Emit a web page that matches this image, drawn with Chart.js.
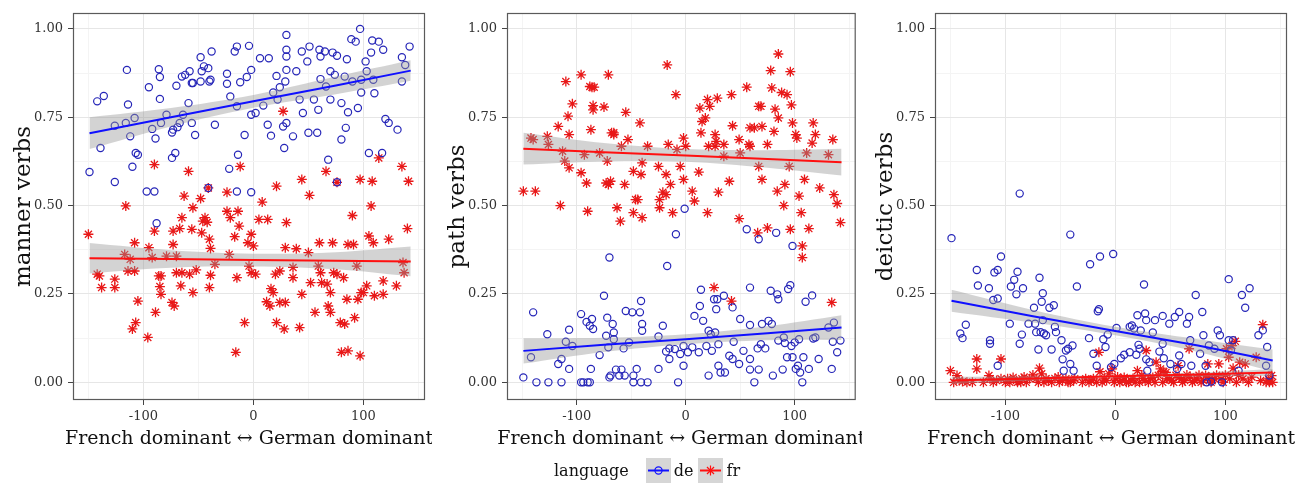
<!DOCTYPE html>
<html>
<head>
<meta charset="utf-8">
<script src="https://cdn.jsdelivr.net/npm/chart.js@4.4.1/dist/chart.umd.min.js"></script>
<style>
  body { margin: 0; background: #fff; width: 1295px; height: 483px; overflow: hidden; position: relative; font-family: 'DejaVu Serif', serif; }
  canvas.panel { position: absolute; top: 0; }
  #legend { position: absolute; left: 554px; top: 458px; height: 25px; display: flex; align-items: center; font-size: 16px; color: #111; white-space: nowrap; }
  #legend canvas { background: #d6d6d6; margin: 0 3px; }
</style>
</head>
<body>
<canvas id="manner" class="panel" width="432" height="483" style="left:0px"></canvas>
<canvas id="path" class="panel" width="428" height="483" style="left:434px"></canvas>
<canvas id="deictic" class="panel" width="433" height="483" style="left:862px"></canvas>
<div id="legend">
  <span style="margin-right:14px">language</span>
  <canvas id="keyDe" width="25" height="25"></canvas><span style="margin-right:2px">de</span>
  <canvas id="keyFr" width="25" height="25"></canvas><span>fr</span>
</div>
<script>
// ---------------- Data ----------------
const xMajorTicks = [-100, 0, 100];
const xMinorTicks = [-150, -50, 50, 150];
const yMajorTicks = [0, 0.25, 0.5, 0.75, 1];
const yMinorTicks = [0.125, 0.375, 0.625, 0.875];
const xTitle = 'French dominant \u2194 German dominant';
const legendTitle = 'language';
const languages = ['de', 'fr'];

// manner verbs
const mannerDe = [[-149,.595],[-142,.795],[-136,.81],[-139,.663],[-126,.567],[-126,.726],[-116,.734],[-115,.884],[-114,.786],[-112,.696],[-110,.61],[-108,.748],[-107,.649],[-105,.644],[-97,.54],[-95,.835],[-92,.717],[-90,.54],[-89,.69],[-88,.45],[-86,.886],[-85,.864],[-85,.802],[-84,.734],[-79,.757],[-74,.707],[-74,.635],[-73,.715],[-71,.649],[-70,.839],[-69,.722],[-67,.734],[-65,.865],[-64,.757],[-62,.87],[-59,.79],[-58,.88],[-56,.847],[-55,.847],[-56,.734],[-53,.70],[-48,.851],[-48,.92],[-47,.88],[-45,.894],[-41,.889],[-40,.851],[-39,.856],[-38,.936],[-41,.55],[-35,.729],[-24,.873],[-24,.845],[-21,.809],[-22,.604],[-17,.936],[-15,.95],[-15,.54],[-14,.644],[-15,.781],[-12,.849],[-8,.70],[-6,.864],[-4,.952],[-2,.884],[-2,.757],[-2,.538],[2,.762],[6,.917],[9,.783],[14,.917],[13,.729],[16,.698],[18,.82],[21,.867],[22,.80],[24,.835],[27,.724],[28,.663],[29,.851],[30,.983],[30,.941],[30,.922],[30,.884],[30,.734],[36,.696],[39,.88],[42,.80],[44,.936],[45,.762],[49,.908],[50,.706],[51,.95],[55,.80],[58,.706],[59,.771],[60,.941],[61,.858],[61,.922],[65,.936],[66,.837],[68,.63],[70,.80],[70,.88],[72,.933],[74,.87],[76,.924],[76,.566],[80,.687],[80,.79],[83,.865],[84,.72],[85,.914],[86,.764],[89,.971],[90,.851],[93,.964],[95,.776],[97,1.0],[98,.82],[98,.856],[102,.908],[103,.88],[105,.649],[107,.933],[108,.967],[109,.856],[110,.818],[114,.964],[117,.649],[118,.941],[120,.745],[123,.734],[131,.715],[135,.92],[135,.851],[138,.898],[142,.95]];
const mannerFr = [[-150,.419],[-142,.306],[-140,.301],[-138,.268],[-126,.292],[-126,.268],[-117,.362],[-116,.499],[-114,.315],[-112,.348],[-110,.151],[-108,.395],[-108,.315],[-107,.169],[-105,.23],[-96,.127],[-95,.381],[-92,.353],[-90,.616],[-90,.428],[-89,.198],[-86,.301],[-85,.271],[-84,.249],[-84,.301],[-79,.357],[-74,.226],[-73,.428],[-73,.39],[-72,.216],[-70,.357],[-70,.31],[-67,.435],[-66,.273],[-65,.466],[-65,.31],[-63,.527],[-59,.597],[-58,.306],[-56,.433],[-55,.254],[-55,.494],[-52,.318],[-48,.52],[-47,.423],[-46,.456],[-44,.466],[-42,.453],[-41,.55],[-40,.405],[-39,.303],[-40,.268],[-39,.379],[-35,.334],[-24,.538],[-24,.484],[-21,.466],[-22,.362],[-17,.412],[-16,.085],[-15,.296],[-14,.484],[-13,.442],[-12,.611],[-8,.169],[-5,.395],[-2,.419],[-4,.329],[-2,.31],[0,.386],[2,.306],[5,.461],[8,.51],[13,.461],[12,.228],[15,.216],[16,.265],[18,.254],[20,.306],[21,.555],[21,.169],[24,.315],[24,.226],[27,.767],[28,.151],[29,.381],[29,.226],[30,.452],[36,.325],[36,.296],[39,.378],[42,.155],[44,.249],[44,.574],[50,.367],[51,.529],[52,.282],[56,.198],[59,.329],[60,.395],[61,.31],[62,.282],[66,.597],[67,.278],[68,.216],[70,.198],[70,.254],[72,.395],[73,.31],[76,.566],[76,.306],[79,.169],[80,.085],[82,.296],[83,.165],[85,.235],[86,.39],[86,.089],[90,.472],[91,.39],[92,.183],[94,.329],[95,.235],[97,.574],[97,.075],[98,.254],[100,.254],[103,.273],[105,.414],[107,.499],[108,.569],[109,.395],[110,.245],[114,.635],[118,.287],[118,.249],[123,.405],[130,.273],[135,.611],[136,.339],[137,.31],[141,.569],[140,.435]];

// path verbs
const pathDe = [[-149,.014],[-142,.071],[-140,.198],[-137,0],[-127,.136],[-126,0],[-117,.052],[-114,.066],[-114,0],[-110,.115],[-107,.149],[-107,.038],[-104,.103],[-96,.193],[-96,0],[-94,0],[-91,.171],[-90,0],[-88,0],[-88,.16],[-86,.179],[-85,.151],[-87,.038],[-79,.077],[-75,.245],[-73,.132],[-72,.183],[-70,.353],[-71,.099],[-70,.014],[-69,.019],[-67,.165],[-66,.141],[-66,.122],[-64,.036],[-61,.019],[-59,.036],[-57,.096],[-56,.019],[-55,.202],[-52,.113],[-49,.198],[-48,.019],[-48,0],[-45,.038],[-42,.198],[-41,.23],[-41,0],[-40,.165],[-40,.146],[-35,0],[-25,.13],[-25,.038],[-21,.16],[-18,.087],[-17,.329],[-15,.096],[-15,.066],[-10,.094],[-9,.419],[-7,0],[-5,.08],[-2,.047],[-2,.103],[-1,.491],[2,.085],[6,.099],[8,.188],[12,.085],[13,.216],[14,.262],[16,.174],[19,.103],[21,.019],[21,.146],[23,.136],[24,.089],[26,.235],[27,.141],[28,.207],[29,.235],[30,.047],[30,.108],[32,.028],[35,.245],[36,.028],[40,.075],[43,.066],[43,.212],[44,.115],[49,.052],[50,.179],[53,.089],[56,.433],[59,.066],[59,.036],[59,.162],[59,.268],[63,0],[66,.096],[67,.036],[67,.405],[69,.108],[70,.165],[73,.096],[76,.174],[78,.259],[79,.165],[80,.019],[83,.423],[84,.249],[85,.235],[85,.118],[89,.036],[90,.127],[91,.111],[93,.071],[94,.264],[96,.275],[97,.103],[98,.071],[98,.386],[100,.113],[101,.038],[103,.047],[104,.122],[105,.028],[107,0],[108,.071],[110,.228],[113,.038],[116,.246],[117,.124],[119,.127],[122,.066],[131,.155],[134,.038],[135,.115],[136,.169],[139,.085],[142,.118]];
const pathFr = [[-149,.541],[-138,.541],[-142,.691],[-140,.687],[-127,.696],[-126,.673],[-117,.724],[-115,.50],[-113,.654],[-111,.626],[-110,.851],[-108,.753],[-107,.607],[-107,.701],[-104,.788],[-96,.87],[-96,.593],[-93,.644],[-91,.564],[-90,.484],[-88,.837],[-86,.835],[-87,.715],[-85,.783],[-85,.771],[-84,.835],[-79,.649],[-75,.779],[-72,.626],[-71,.87],[-73,.564],[-71,.56],[-69,.569],[-68,.706],[-66,.701],[-66,.706],[-63,.494],[-60,.456],[-59,.668],[-56,.56],[-55,.764],[-53,.687],[-48,.48],[-48,.597],[-46,.517],[-44,.517],[-42,.734],[-41,.588],[-40,.621],[-40,.466],[-35,.668],[-25,.611],[-24,.494],[-24,.517],[-21,.538],[-18,.588],[-18,.531],[-17,.898],[-16,.673],[-14,.56],[-12,.48],[-9,.814],[-8,.659],[-5,.611],[-2,.691],[-2,.574],[0,.668],[6,.541],[8,.513],[12,.595],[13,.776],[14,.706],[15,.738],[18,.748],[20,.80],[20,.48],[21,.668],[22,.781],[27,.701],[27,.668],[28,.682],[30,.538],[29,.804],[35,.673],[35,.64],[40,.569],[42,.814],[43,.726],[49,.687],[49,.463],[50,.649],[56,.835],[58,.673],[59,.668],[59,.72],[63,.72],[66,.423],[67,.781],[69,.781],[70,.724],[67,.611],[70,.574],[75,.673],[75,.437],[78,.882],[79,.833],[81,.71],[82,.773],[85,.748],[85,.929],[84,.541],[88,.82],[91,.56],[90,.50],[93,.814],[95,.611],[96,.879],[97,.785],[98,.734],[96,.433],[101,.701],[102,.691],[104,.527],[106,.48],[107,.386],[107,.353],[109,.574],[111,.649],[113,.435],[116,.677],[117,.734],[119,.701],[123,.55],[131,.644],[135,.687],[136,.531],[139,.506],[142,.452],[134,.226],[26,.268],[42,.23]];

// deictic verbs
const deicticDe = [[-149,.408],[-141,.138],[-139,.125],[-136,.163],[-126,.318],[-125,.274],[-115,.266],[-114,.119],[-114,.109],[-111,.233],[-110,.311],[-107,.318],[-107,.237],[-107,.047],[-104,.356],[-96,.166],[-95,.271],[-92,.29],[-90,.249],[-89,.313],[-87,.534],[-87,.109],[-85,.135],[-84,.266],[-79,.166],[-74,.211],[-73,.166],[-72,.142],[-70,.093],[-69,.296],[-68,.142],[-67,.228],[-66,.252],[-66,.176],[-65,.138],[-63,.133],[-60,.211],[-58,.093],[-56,.218],[-55,.157],[-54,.142],[-49,.119],[-48,.065],[-47,.033],[-45,.09],[-43,.095],[-41,.052],[-41,.418],[-39,.104],[-38,.033],[-35,.271],[-23,.334],[-24,.125],[-20,.081],[-17,.047],[-16,.201],[-15,.207],[-14,.356],[-11,.122],[-9,.1],[-7,.135],[-4,.043],[-2,.363],[-1,.052],[1,.154],[5,.068],[8,.078],[13,.157],[13,.085],[15,.161],[17,.152],[19,.078],[20,.19],[21,.106],[22,.095],[23,.147],[26,.277],[27,.195],[28,.176],[28,.065],[29,.033],[31,.057],[34,.141],[36,.176],[40,.087],[43,.188],[43,.109],[44,.068],[49,.166],[50,.052],[54,.185],[56,.038],[58,.199],[58,.076],[60,.052],[65,.166],[67,.185],[68,.119],[69,.047],[73,.247],[77,.081],[79,.199],[80,.133],[82,.047],[83,0],[85,.104],[87,.002],[90,.095],[93,.147],[95,.133],[97,0],[103,.292],[103,.119],[105,.09],[107,.119],[112,.033],[115,.247],[118,.211],[122,.266],[130,.133],[134,.147],[137,.047],[138,.1],[140,.019]];
const deicticFr = [[-150,.033],[-144,.019],[-139,.002],[-135,0],[-126,.066],[-126,.038],[-115,.019],[-114,.01],[-111,0],[-104,.066],[-104,.01],[-96,0],[-93,.014],[-89,0],[-85,.01],[-81,0],[-75,.021],[-72,.01],[-69,.04],[-67,.024],[-65,0],[-63,.01],[-58,0],[-55,.011],[-51,0],[-45,.01],[-41,0],[-37,.01],[-24,0],[-20,.01],[-17,0],[-15,.085],[-14,.03],[-10,.01],[-6,.024],[-3,.038],[-1,0],[4,0],[8,.014],[12,0],[16,.011],[20,.033],[22,0],[25,.011],[28,.09],[30,0],[34,.014],[37,.057],[41,.038],[43,0],[46,.028],[49,.01],[53,0],[57,.047],[58,.014],[61,0],[65,.021],[67,.095],[70,0],[74,.01],[78,0],[82,.019],[84,.052],[87,0],[90,.01],[94,.052],[98,0],[101,.095],[103,.071],[106,.104],[109,.116],[110,0],[113,.057],[118,.052],[121,0],[128,.071],[134,.163],[137,0],[140,0],[142,.019],
  [-147,0],[-142,.005],[-130,0],[-120,0],[-108,.005],[-100,0],[-98,.01],[-90,.005],[-86,0],[-83,.015],[-78,.01],[-70,0],[-61,.005],[-52,.015],[-48,.005],[-43,0],[-38,.005],[-30,0],[-27,.01],[-22,.005],[-12,0],[-8,.005],[0,.01],[2,.015],[6,.005],[10,0],[14,.005],[18,0],[24,.02],[27,.005],[32,.01],[36,0],[39,.02],[44,.03],[47,.01],[51,.005],[55,.02],[60,.01],[63,.005],[68,.015],[72,.005],[76,.02],[80,.005],[85,.015],[88,.005],[92,.02],[96,.01],[100,.02],[104,.01],[107,.04],[112,.02],[116,.01],[124,.015],[132,.005],[139,.01],[143,0]];

// fitted lines and their confidence bands, read at these x positions
const fitX = [-149, -75, 0, 75, 143];
const mannerDeFit = [0.705, 0.750, 0.795, 0.840, 0.882];
const mannerDeSe  = [0.045, 0.026, 0.018, 0.025, 0.029];
const mannerFrFit = [0.351, 0.349, 0.346, 0.344, 0.342];
const mannerFrSe  = [0.043, 0.025, 0.018, 0.024, 0.042];
const pathDeFit = [0.089, 0.106, 0.122, 0.139, 0.155];
const pathDeSe  = [0.036, 0.020, 0.014, 0.020, 0.035];
const pathFrFit = [0.661, 0.651, 0.642, 0.632, 0.623];
const pathFrSe  = [0.045, 0.026, 0.018, 0.025, 0.038];
const deicticDeFit = [0.231, 0.187, 0.145, 0.104, 0.062];
const deicticDeSe  = [0.031, 0.018, 0.012, 0.018, 0.031];
const deicticFrFit = [0.005, 0.011, 0.017, 0.022, 0.028];
const deicticFrSe  = [0.010, 0.006, 0.004, 0.006, 0.010];

// ---------------- Styles ----------------
const FONT = "'DejaVu Serif', 'Liberation Serif', serif";
const DE_POINT = '#2626b8';
const DE_LINE = '#1010ff';
const FR_POINT = '#e81818';
const FR_LINE = '#ff1010';
const BAND = 'rgba(150,150,150,0.42)';

const isMajorX = v => xMajorTicks.includes(v);
const isMajorY = v => yMajorTicks.some(t => Math.abs(t - v) < 1e-9);

// box around each panel (ggplot panel.border) + x title drawn unsqueezed
const panelDecor = {
    id: 'panelDecor',
    afterDraw(chart) {
        const {ctx, chartArea: a} = chart;
        ctx.save();
        ctx.strokeStyle = '#5a5a5a';
        ctx.lineWidth = 1.2;
        ctx.strokeRect(a.left + 0.5, a.top + 0.5, a.width - 1, a.height - 1);
        ctx.fillStyle = '#111';
        ctx.font = "19px " + FONT;
        ctx.textAlign = 'center';
        ctx.textBaseline = 'alphabetic';
        ctx.fillText(xTitle, (a.left + a.right) / 2, 444);
        ctx.restore();
    }
};

function toPoints(pairs) {
    return pairs.map(p => ({x: p[0], y: p[1]}));
}

function curve(fit, se, sign) {
    return fitX.map((x, i) => ({x: x, y: fit[i] + sign * se[i]}));
}

function smoothSets(fit, se, lineColor) {
    return [
        { type: 'line', data: curve(fit, se, 1), borderWidth: 0, pointRadius: 0, fill: '+1', backgroundColor: BAND, tension: 0.35, order: 2 },
        { type: 'line', data: curve(fit, se, -1), borderWidth: 0, pointRadius: 0, fill: false, tension: 0.35, order: 2 },
        { type: 'line', data: curve(fit, se, 0), borderColor: lineColor, borderWidth: 2, pointRadius: 0, fill: false, order: 1 }
    ];
}

function makePanel(id, yTitle, de, fr, deFit, deSe, frFit, frSe, padRight) {
    const datasets = [
        { label: languages[0], data: toPoints(de), pointStyle: 'circle', pointRadius: 3.6, borderColor: DE_POINT, backgroundColor: 'rgba(0,0,0,0)', pointBorderWidth: 1.2, order: 3 },
        { label: languages[1], data: toPoints(fr), pointStyle: 'star', pointRadius: 5, borderColor: FR_POINT, backgroundColor: FR_POINT, pointBorderWidth: 1.3, order: 3 }
    ]
    .concat(smoothSets(frFit, frSe, FR_LINE))
    .concat(smoothSets(deFit, deSe, DE_LINE));

    new Chart(document.getElementById(id), {
        type: 'scatter',
        data: { datasets: datasets },
        options: {
            responsive: false,
            animation: false,
            layout: { padding: { top: 13, right: padRight, bottom: 33, left: 0 } },
            plugins: { legend: { display: false }, tooltip: { enabled: false } },
            scales: {
                x: {
                    type: 'linear', min: -164, max: 156,
                    afterFit: s => { s.height = 50; },
                    afterBuildTicks: s => { s.ticks = xMinorTicks.concat(xMajorTicks).sort((a, b) => a - b).map(v => ({value: v})); },
                    ticks: { autoSkip: false, maxRotation: 0, padding: 4, color: '#333', font: { family: FONT, size: 13 },
                             callback: v => isMajorX(v) ? String(v) : '' },
                    grid: { color: c => isMajorX(c.tick.value) ? '#e6e6e6' : '#f4f4f4',
                            tickColor: c => isMajorX(c.tick.value) ? '#444' : 'rgba(0,0,0,0)',
                            tickLength: 5, lineWidth: 1 },
                    border: { display: false },
                    title: { display: false }
                },
                y: {
                    type: 'linear', min: -0.05, max: 1.045,
                    afterFit: s => { s.width = 73; },
                    afterBuildTicks: s => { s.ticks = yMinorTicks.concat(yMajorTicks).sort((a, b) => a - b).map(v => ({value: v})); },
                    ticks: { autoSkip: false, padding: 5, color: '#333', font: { family: FONT, size: 13 },
                             callback: v => isMajorY(v) ? v.toFixed(2) : '' },
                    grid: { color: c => isMajorY(c.tick.value) ? '#e6e6e6' : '#f4f4f4',
                            tickColor: c => isMajorY(c.tick.value) ? '#444' : 'rgba(0,0,0,0)',
                            tickLength: 5, lineWidth: 1 },
                    border: { display: false },
                    title: { display: true, text: yTitle, color: '#111', padding: { top: 10, bottom: 0 }, font: { family: FONT, size: 23 } }
                }
            }
        },
        plugins: [panelDecor]
    });
}

makePanel('manner', 'manner verbs', mannerDe, mannerFr, mannerDeFit, mannerDeSe, mannerFrFit, mannerFrSe, 7);
makePanel('path', 'path verbs', pathDe, pathFr, pathDeFit, pathDeSe, pathFrFit, pathFrSe, 5);
makePanel('deictic', 'deictic verbs', deicticDe, deicticFr, deicticDeFit, deicticDeSe, deicticFrFit, deicticFrSe, 8);

// ---------------- Legend keys ----------------
function drawKey(id, color, shape) {
    const ctx = document.getElementById(id).getContext('2d');
    ctx.strokeStyle = color;
    ctx.lineWidth = 2;
    ctx.beginPath(); ctx.moveTo(2, 12.5); ctx.lineTo(23, 12.5); ctx.stroke();
    ctx.lineWidth = 1.2;
    ctx.beginPath();
    if (shape === 'circle') {
        ctx.arc(12.5, 12.5, 3.6, 0, Math.PI * 2);
    } else {
        for (let k = 0; k < 4; k++) {
            const a = k * Math.PI / 4;
            ctx.moveTo(12.5 - 5 * Math.cos(a), 12.5 - 5 * Math.sin(a));
            ctx.lineTo(12.5 + 5 * Math.cos(a), 12.5 + 5 * Math.sin(a));
        }
    }
    ctx.stroke();
}
drawKey('keyDe', DE_LINE, 'circle');
drawKey('keyFr', FR_LINE, 'star');
</script>
</body>
</html>
